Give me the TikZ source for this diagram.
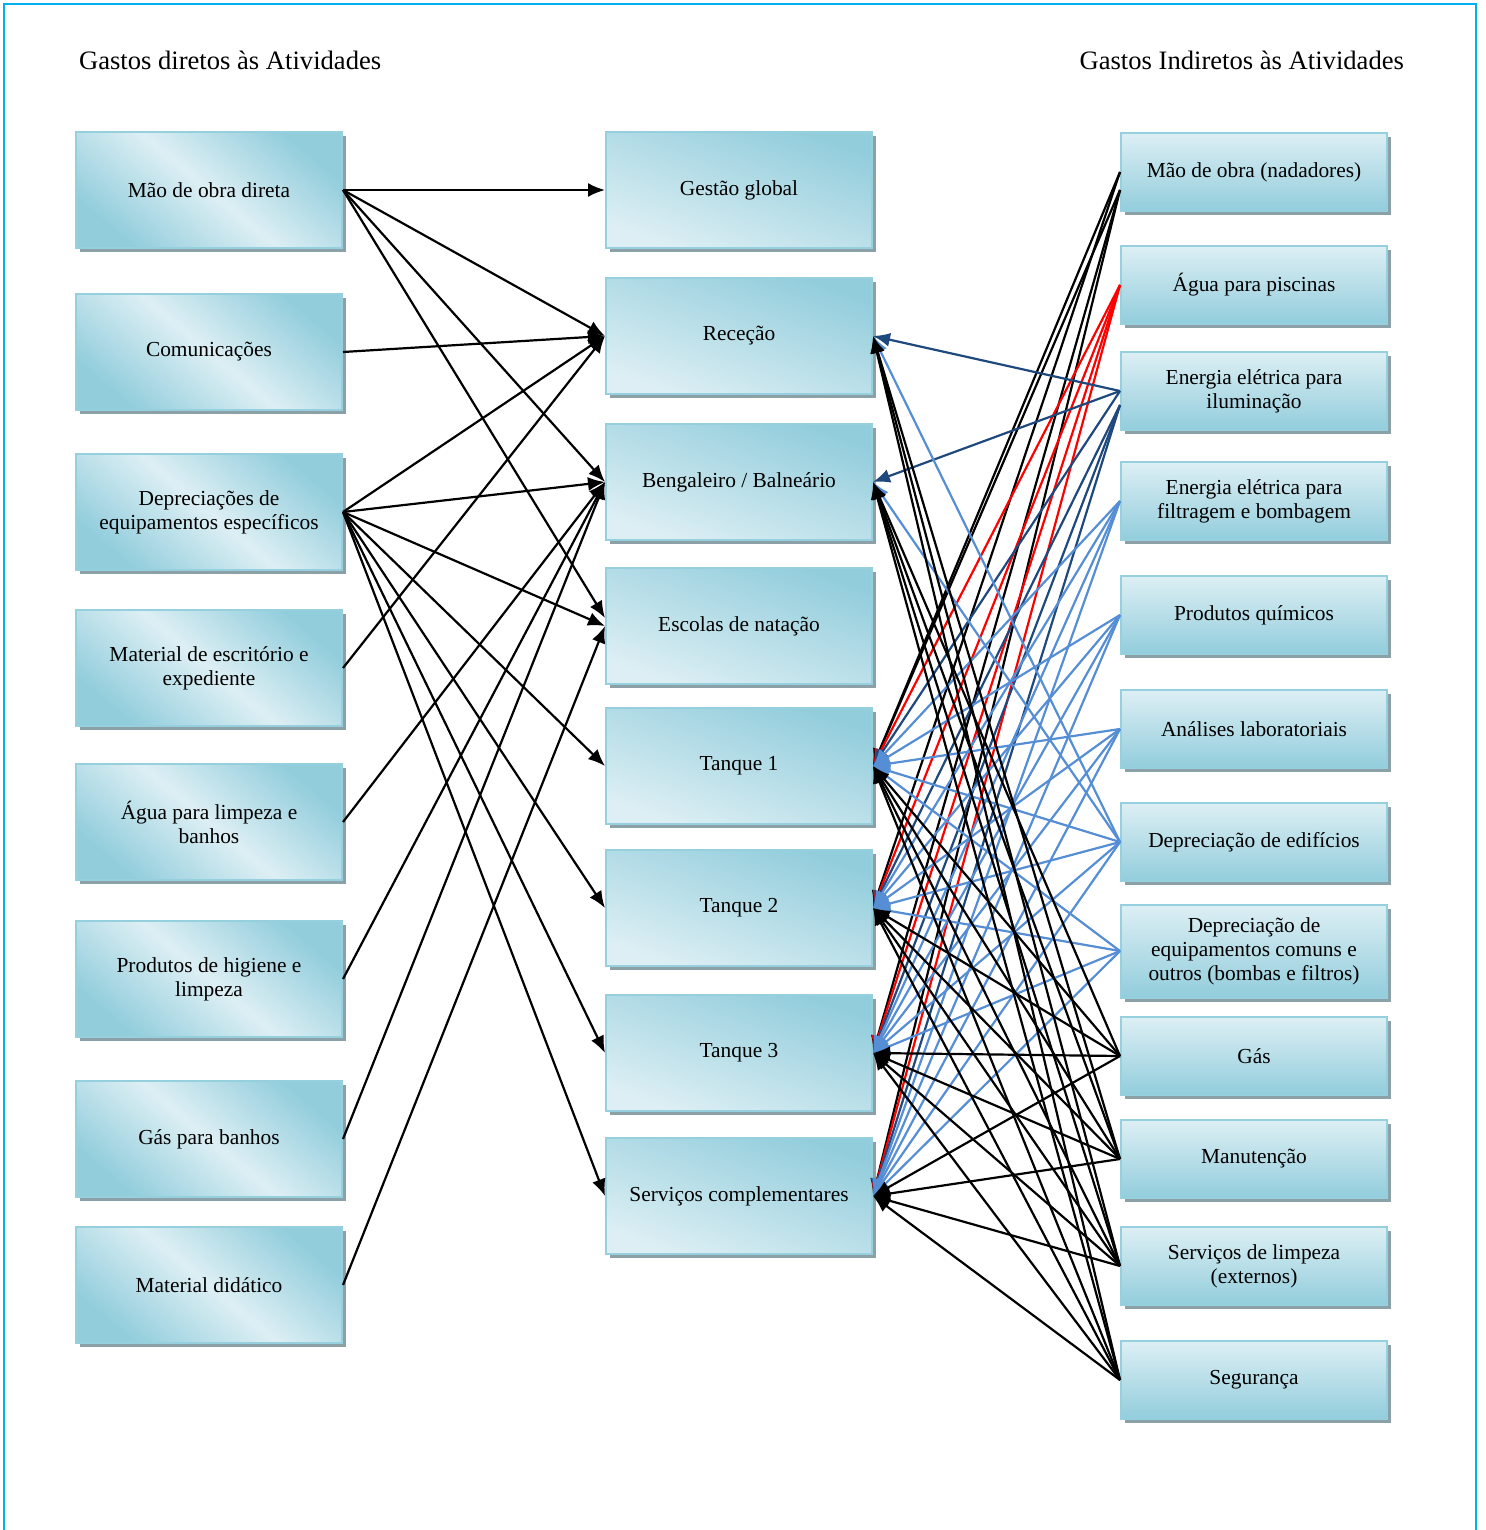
\documentclass[tikz,border=0pt]{standalone}
\usepackage{fontspec}
\setmainfont{Liberation Serif}
\usetikzlibrary{arrows.meta,shadows}
\definecolor{frameCyan}{RGB}{0, 176, 240}
\definecolor{boxLight}{RGB}{221, 239, 244}
\definecolor{boxDark}{RGB}{146, 205, 220}
\definecolor{boxEdge}{RGB}{150, 208, 222}
\definecolor{shadowGray}{RGB}{140, 160, 168}
\definecolor{lineRed}{RGB}{255, 0, 0}
\definecolor{lineNavy}{RGB}{31, 73, 125}
\definecolor{lineBlue}{RGB}{85, 142, 213}

\begin{document}
\begin{tikzpicture}[x=0.5pt,y=-0.5pt,
    costbox/.style={draw=boxEdge, line width=1pt, minimum width=133pt,
      minimum height=58pt, align=center, font=\fontsize{10.7}{12}\selectfont,
      drop shadow={shadow xshift=2pt, shadow yshift=-2pt, fill=shadowGray, opacity=1}},
    leftbox/.style={costbox, top color=boxDark, bottom color=boxDark,
      middle color=boxLight, shading angle=-40},
    midbox/.style={costbox, top color=boxDark, bottom color=boxLight, shading angle=-20},
    rightbox/.style={costbox, minimum height=39pt, top color=boxLight, bottom color=boxDark},
    feed/.style={-{Latex[length=8.5pt,width=7pt]}, line width=1.1pt}]
  \useasboundingbox (0,0) rectangle (1485,1530);

  % open frame
  \draw[frameCyan, line width=1.2pt] (4,1530) -- (4,4) -- (1476,4) -- (1476,1530);

  % titles
  \node[anchor=west, font=\fontsize{13.3}{15}\selectfont] (titleDir) at (72,60) {Gastos diretos às Atividades};
  \node[anchor=east, font=\fontsize{13.3}{15}\selectfont] (titleInd) at (1411,60) {Gastos Indiretos às Atividades};

  % direct costs
  \node[leftbox] (maoDir) at (209,190) {Mão de obra direta};
  \node[leftbox] (comun) at (209,352) {Comunicações};
  \node[leftbox] (deprEsp) at (209,512) {Depreciações de\\equipamentos específicos};
  \node[leftbox] (matEsc) at (209,668) {Material de escritório e\\expediente};
  \node[leftbox] (aguaLimp) at (209,822) {Água para limpeza e\\banhos};
  \node[leftbox] (prodHig) at (209,979) {Produtos de higiene e\\limpeza};
  \node[leftbox] (gasBanho) at (209,1139) {Gás para banhos};
  \node[leftbox] (matDid) at (209,1285) {Material didático};

  % activities
  \node[midbox] (gestao) at (739,190) {Gestão global};
  \node[midbox] (rececao) at (739,336) {Receção};
  \node[midbox] (bengal) at (739,482) {Bengaleiro / Balneário};
  \node[midbox] (escolas) at (739,626) {Escolas de natação};
  \node[midbox] (tqA) at (739,766) {Tanque 1};
  \node[midbox] (tqB) at (739,908) {Tanque 2};
  \node[midbox] (tqC) at (739,1053) {Tanque 3};
  \node[midbox] (servC) at (739,1196) {Serviços complementares};

  % indirect costs
  \node[rightbox] (nadad) at (1254,172) {Mão de obra (nadadores)};
  \node[rightbox] (aguaPisc) at (1254,285) {Água para piscinas};
  \node[rightbox] (enIlum) at (1254,391) {Energia elétrica para\\iluminação};
  \node[rightbox] (enFilt) at (1254,501) {Energia elétrica para\\filtragem e bombagem};
  \node[rightbox] (quimic) at (1254,615) {Produtos químicos};
  \node[rightbox] (analis) at (1254,729) {Análises laboratoriais};
  \node[rightbox] (deprEdif) at (1254,842) {Depreciação de edifícios};
  \node[rightbox, minimum height=46.5pt] (deprCom) at (1254,951) {Depreciação de\\equipamentos comuns e\\outros (bombas e filtros)};
  \node[rightbox] (gas) at (1254,1056) {Gás};
  \node[rightbox] (manut) at (1254,1159) {Manutenção};
  \node[rightbox] (limpeza) at (1254,1266) {Serviços de limpeza\\(externos)};
  \node[rightbox] (segur) at (1254,1380) {Segurança};

  % direct costs to activities
  \draw[feed] (maoDir.east) -- (gestao.west);
  \draw[feed] (maoDir.east) -- (rececao.west);
  \draw[feed] (maoDir.east) -- (bengal.west);
  \draw[feed] (maoDir.east) -- ([yshift=4pt]escolas.west);
  \draw[feed] (comun.east) -- (rececao.west);
  \foreach \dst in {rececao,bengal,escolas,tqA,tqB,tqC,servC}
    \draw[feed] (deprEsp.east) -- (\dst.west);
  \draw[feed] (matEsc.east) -- (rececao.west);
  \draw[feed] (aguaLimp.east) -- (bengal.west);
  \draw[feed] (prodHig.east) -- (bengal.west);
  \draw[feed] (gasBanho.east) -- (bengal.west);
  \draw[feed] (matDid.east) -- (escolas.west);

  % indirect costs to activities
  \foreach \dst in {tqA,tqB}
    \draw[feed, black] (nadad.west) -- (\dst.east);
  \foreach \dst in {tqA,tqC,servC}
    \draw[feed, black] ([yshift=-9pt]nadad.west) -- (\dst.east);
  \foreach \dst in {tqA,tqB,tqC,servC}
    \draw[feed, lineRed] (aguaPisc.west) -- (\dst.east);
  \foreach \dst in {rececao,bengal,tqA}
    \draw[feed, lineNavy] (enIlum.west) -- (\dst.east);
  \foreach \dst in {tqB,tqC,servC}
    \draw[feed, lineNavy] ([yshift=-7pt]enIlum.west) -- (\dst.east);
  \foreach \src in {enFilt,quimic,analis,deprCom}
    \foreach \dst in {tqA,tqB,tqC,servC}
      \draw[feed, lineBlue] (\src.west) -- (\dst.east);
  \foreach \dst in {rececao,bengal,tqA,tqB,tqC,servC}
    \draw[feed, lineBlue] (deprEdif.west) -- (\dst.east);
  \foreach \dst in {bengal,tqA,tqB,tqC,servC}
    \draw[feed, black] (gas.west) -- (\dst.east);
  \foreach \src in {manut,limpeza,segur}
    \foreach \dst in {rececao,bengal,tqA,tqB,tqC,servC}
      \draw[feed, black] (\src.west) -- (\dst.east);
\end{tikzpicture}
\end{document}
